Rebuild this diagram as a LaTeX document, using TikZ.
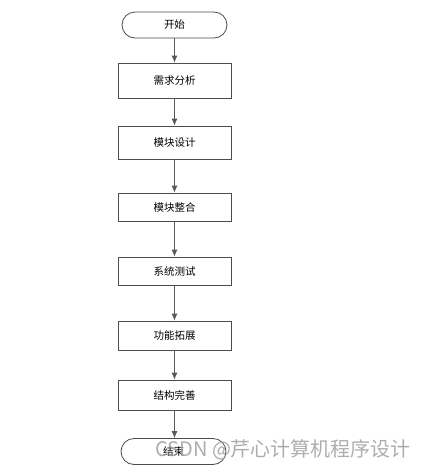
\documentclass[tikz,border=0pt]{standalone}
\usepackage{fontspec}
\newfontfamily\cjk{Noto Sans CJK SC}
\usepackage{tikz}
\usetikzlibrary{arrows.meta,calc,positioning}

\begin{document}
\begin{tikzpicture}[>={Latex[length=7pt,width=6pt]}, x=1pt, y=-1pt,
  stepbox/.style={draw=black!70, line width=0.8pt, fill=white, minimum width=113pt,
    inner sep=0pt, font=\cjk\fontsize{10.5}{12}\selectfont},
  termbox/.style={stepbox, minimum width=105pt, minimum height=26pt, rounded corners=13pt},
  flow/.style={->, draw=black!65, line width=0.8pt}]
  \useasboundingbox (0,0) rectangle (422,467);

  % Terminals
  \node[termbox] (start) at (174.5,25) {开始};
  \node[termbox] (stop)  at (173.5,451.5) {结束};

  % Steps
  \node[stepbox, minimum height=35pt] (need)   at (174.5,80.5)  {需求分析};
  \node[stepbox, minimum height=33pt] (design) at (174.5,142.5) {模块设计};
  \node[stepbox, minimum height=28pt] (merge)  at (174.5,207)   {模块整合};
  \node[stepbox, minimum height=28pt] (test)   at (174.5,271)   {系统测试};
  \node[stepbox, minimum height=29pt] (extend) at (174.5,335.5) {功能拓展};
  \node[stepbox, minimum height=30pt] (refine) at (174.5,395)   {结构完善};

  % Connectors
  \draw[flow] (start) -- (need);
  \draw[flow] (need) -- (design);
  \draw[flow] (design) -- (merge);
  \draw[flow] (merge) -- (test);
  \draw[flow] (test) -- (extend);
  \draw[flow] (extend) -- (refine);
  \draw[flow] (refine.south) -- (refine.south |- stop.north);

  % Watermark
  \node[anchor=west, text=gray!75, opacity=0.85, inner sep=0pt,
    font=\cjk\fontsize{20}{22}\selectfont] (mark) at (155,450) {CSDN @芹心计算机程序设计};
\end{tikzpicture}
\end{document}
